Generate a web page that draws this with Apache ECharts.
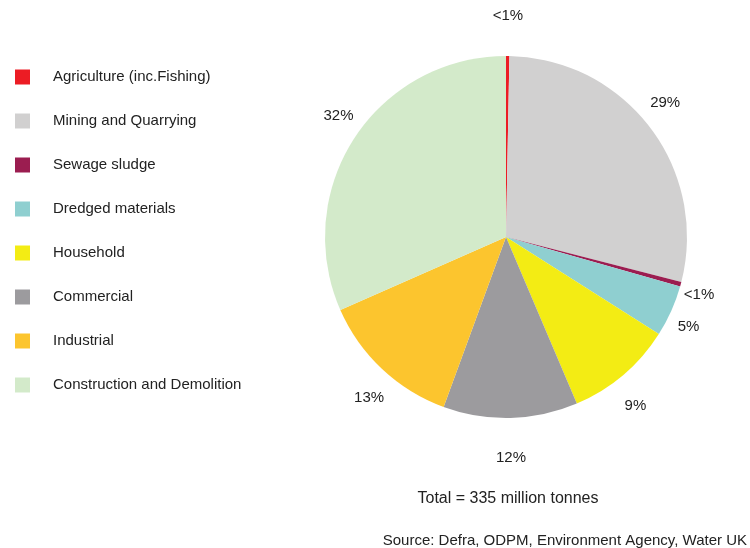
<!DOCTYPE html>
<html>
<head>
<meta charset="utf-8">
<script src="https://cdn.jsdelivr.net/npm/echarts@6/dist/echarts.min.js"></script>
<style>
html,body{margin:0;padding:0;background:#fff;}
#chart{width:750px;height:548px;}
</style>
</head>
<body>
<div id="chart"></div>
<script>
var categories = ['Agriculture (inc.Fishing)', 'Mining and Quarrying', 'Sewage sludge', 'Dredged materials', 'Household', 'Commercial', 'Industrial', 'Construction and Demolition'];
var shares = [0.3, 28.7, 0.4, 4.6, 9.6, 12.0, 12.8, 31.6];
var shareLabels = ['<1%', '29%', '<1%', '5%', '9%', '12%', '13%', '32%'];
var colors = ['#ec1c24', '#d1d0d0', '#9b1d50', '#8fcfd0', '#f3ec14', '#9c9b9e', '#fcc52e', '#d3eaca'];
var totalText = 'Total = 335 million tonnes';
var sourceText = 'Source: Defra, ODPM, Environment Agency, Water UK';

var CX = 506, CY = 237;
var LABEL_RX = 200, LABEL_RY = 221;
var totalShare = shares.reduce(function (a, b) { return a + b; }, 0);

var chart = echarts.init(document.getElementById('chart'), null, {renderer: 'canvas'});
var data = categories.map(function (c, i) {
  return {name: c, value: shares[i], label: {formatter: shareLabels[i]}};
});
chart.setOption({
  backgroundColor: '#ffffff',
  animation: false,
  color: colors,
  title: [
    {text: totalText, left: 508, top: 491, textAlign: 'center', padding: 0,
     textStyle: {fontFamily: 'Liberation Sans', fontSize: 16, fontWeight: 'normal', color: '#222'}},
    {text: sourceText, right: 3, top: 533, padding: 0,
     textStyle: {fontFamily: 'Liberation Sans', fontSize: 15, fontWeight: 'normal', color: '#222'}}
  ],
  legend: {
    orient: 'vertical',
    left: 15,
    top: 69.5,
    padding: 0,
    itemWidth: 15,
    itemHeight: 15,
    itemGap: 29,
    icon: 'rect',
    selectedMode: false,
    textStyle: {fontFamily: 'Liberation Sans', fontSize: 15, color: '#222', padding: [0, 0, 0, 18]},
    data: categories
  },
  series: [{
    type: 'pie',
    center: [CX, CY],
    radius: 181,
    startAngle: 90,
    clockwise: true,
    avoidLabelOverlap: false,
    silent: true,
    itemStyle: {borderWidth: 0},
    label: {show: true, position: 'outside', fontFamily: 'Liberation Sans', fontSize: 15, color: '#222'},
    labelLine: {show: false, length: 12, length2: 0},
    labelLayout: function (p) {
      var i = p.dataIndex, cum = 0;
      for (var k = 0; k < i; k++) cum += shares[k];
      var f = (cum + shares[i] / 2) / totalShare;
      var t = f * Math.PI * 2;
      return {
        x: CX + Math.sin(t) * LABEL_RX,
        y: CY - Math.cos(t) * LABEL_RY,
        align: 'center',
        verticalAlign: 'middle'
      };
    },
    data: data
  }]
});
</script>
</body>
</html>
